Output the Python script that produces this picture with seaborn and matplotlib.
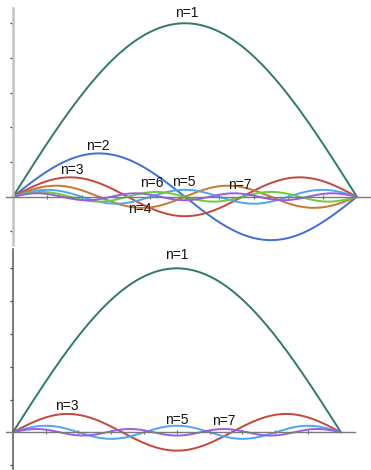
import numpy as np
import pandas as pd
import matplotlib.pyplot as plt
import seaborn as sns

# harmonic numbers and their amplitudes (axis units)
modes_top = [1, 2, 3, 4, 5, 6, 7]
amps_top = [5.0, 1.25, 0.56, 0.32, 0.2, 0.14, 0.1]
colors_top = ['#2f7a68', '#3d6fd6', '#c4463e', '#c9772e', '#4ea6f2', '#6ccd3c', '#9b5ce2']

modes_bot = [1, 3, 5, 7]
amps_bot = [5.0, 0.56, 0.2, 0.1]
colors_bot = ['#2f7a68', '#c4463e', '#4ea6f2', '#9b5ce2']

# label positions (data units)
labels_top = {1: (5.06, 5.29), 2: (2.47, 1.46), 3: (1.72, 0.77), 4: (3.69, -0.36),
              5: (4.97, 0.42), 6: (4.04, 0.39), 7: (6.6, 0.34)}
labels_bot = {1: (5.0, 5.41), 3: (1.65, 0.81), 5: (5.0, 0.37), 7: (6.43, 0.34)}

L = 10
x = np.linspace(0, L, 500)


def modes_frame(modes, amps):
    rows = []
    for n, a in zip(modes, amps):
        rows.append(pd.DataFrame({'x': x, 'y': a * np.sin(n * np.pi * x / L), 'n': n}))
    return pd.concat(rows)


def style_axis(ax, xlim, ylim, ycolor, ywidth, yticks):
    ax.set_xlim(*xlim)
    ax.set_ylim(*ylim)
    for s in ['top', 'right']:
        ax.spines[s].set_visible(False)
    ax.spines['left'].set_position(('data', 0))
    ax.spines['bottom'].set_position(('data', 0))
    ax.spines['left'].set_color(ycolor)
    ax.spines['left'].set_linewidth(ywidth)
    ax.spines['bottom'].set_color('#7a7a7a')
    ax.spines['bottom'].set_linewidth(1.0)
    ax.set_xticks(range(1, 10))
    ax.set_yticks(yticks)
    ax.tick_params(axis='x', bottom=True, direction='inout', length=3.5, width=0.8,
                   color='#666666', labelbottom=False)
    ax.tick_params(axis='y', left=True, direction='out', length=2.5, width=0.9,
                   color='#444444', labelleft=False)
    ax.set_xlabel('')
    ax.set_ylabel('')
    ax.set_facecolor('none')


sns.set_style('white')
plt.rcParams['font.family'] = ['Liberation Sans', 'DejaVu Sans']

W, H = 371, 470
fig = plt.figure(figsize=(W / 100, H / 100), dpi=100)

ax1 = fig.add_axes([6 / W, 1 - 245 / H, 364 / W, 237 / H])
sns.lineplot(data=modes_frame(modes_top, amps_top), x='x', y='y', hue='n',
             palette=colors_top, legend=False, linewidth=1.4, ax=ax1)
style_axis(ax1, (-0.2, 10.38), (-1.39, 5.44), '#c4c4c4', 1.8, [-1, 1, 2, 3, 4, 5])
for n, (tx, ty) in labels_top.items():
    ax1.text(tx, ty, f'n={n}', ha='center', va='center', fontsize=10, color='#111111')

ax2 = fig.add_axes([6 / W, 0, 349 / W, 221 / H])
sns.lineplot(data=modes_frame(modes_bot, amps_bot), x='x', y='y', hue='n',
             palette=colors_bot, legend=False, linewidth=1.4, ax=ax2)
style_axis(ax2, (-0.21, 10.43), (-1.15, 5.59), '#666666', 1.2, [-1, 1, 2, 3, 4, 5])
for n, (tx, ty) in labels_bot.items():
    ax2.text(tx, ty, f'n={n}', ha='center', va='center', fontsize=10, color='#111111')

fig.savefig('out.png', dpi=100)
